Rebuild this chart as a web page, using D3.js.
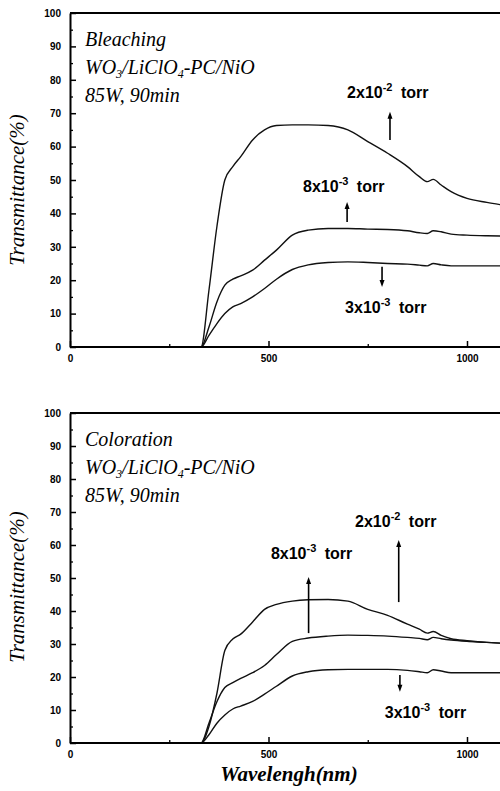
<!DOCTYPE html>
<html>
<head>
<meta charset="utf-8">
<script src="https://cdn.jsdelivr.net/npm/d3@7"></script>
<style>
  html, body { margin: 0; padding: 0; background: #fff; }
  svg { display: block; }
</style>
</head>
<body>
<svg id="chart" width="500" height="791"></svg>
<script>
// ---------- DATA ----------
const wavelengths = [0, 330, 350, 370, 390, 410, 430, 460, 490, 520, 560, 600, 650, 700, 750, 800, 850, 880, 900, 915, 935, 960, 1000, 1050, 1090];

// Bleaching panel
const bleach2e2 = [0, 0, 17, 36, 50, 54, 57, 62, 65, 66.3, 66.5, 66.5, 66.3, 65, 61.5, 58, 54, 51, 49.5, 50.2, 48.5, 46.5, 44.5, 43.3, 42.5];
const bleach8e3 = [0, 0, 6, 13.5, 18.5, 20.3, 21.3, 23, 26, 29, 33.5, 35, 35.5, 35.5, 35.3, 35.2, 34.8, 34.2, 34, 34.8, 34.5, 33.8, 33.5, 33.3, 33.2];
const bleach3e3 = [0, 0, 3.5, 7, 10, 12, 13, 15, 17.5, 20.3, 23.2, 24.6, 25.3, 25.5, 25.3, 25, 24.8, 24.5, 24.3, 25, 24.6, 24.3, 24.3, 24.3, 24.3];

// Coloration panel
const color2e2 = [0, 0, 5, 15, 28, 31.5, 33, 36.7, 40.5, 42, 43, 43.4, 43.5, 43, 40.5, 38.7, 36, 34.5, 33.3, 33.8, 32.6, 31.6, 31, 30.5, 30.2];
const color8e3 = [0, 0, 6, 12.5, 16.8, 18.3, 19.6, 21.3, 23.5, 26.8, 30.8, 31.8, 32.4, 32.7, 32.6, 32.4, 32, 31.7, 31.3, 32, 31.6, 31.2, 30.8, 30.5, 30.2];
const color3e3 = [0, 0, 2.5, 6, 8.5, 10.3, 11.2, 12.6, 14.8, 17.2, 20.3, 21.6, 22.2, 22.3, 22.3, 22.3, 22, 21.6, 21.3, 22.2, 21.8, 21.3, 21.3, 21.3, 21.3];

const yTicks = [0, 10, 20, 30, 40, 50, 60, 70, 80, 90, 100];
const xTicks = [0, 500, 1000];
const pressureLabels = [["2x10", "-2"], ["8x10", "-3"], ["3x10", "-3"]];
const panelTitles = ["Bleaching", "Coloration"];
const yLabel = "Transmittance(%)";
const xLabel = "Wavelengh(nm)";

// annotation anchors in data coordinates [nm, T]
const bleachLabelPos = [[698, 74.5], [587, 46.4], [693, 10.2]];
const bleachArrows = [[806, 62, 70.4, "up"], [698, 37.4, 43.4, "up"], [786, 24, 18, "down"]];
const colorLabelPos = [[718, 65.5], [506, 55.8], [793, 7.6]];
const colorArrows = [[828, 42.7, 61.5, "up"], [601, 33.3, 50.3, "up"], [831, 20.6, 15.5, "down"]];

// ---------- DRAW ----------
const svg = d3.select("#chart");
const x = d3.scaleLinear().domain([0, 1000]).range([70, 467]);
const xRight = 500;

const panels = [
  { title: panelTitles[0], top: 13, bottom: 347, series: [bleach2e2, bleach8e3, bleach3e3], labels: bleachLabelPos, arrows: bleachArrows },
  { title: panelTitles[1], top: 413, bottom: 743, series: [color2e2, color8e3, color3e3], labels: colorLabelPos, arrows: colorArrows }
];

const serif = "'Liberation Serif', 'Times New Roman', serif";
const sans = "'Liberation Sans', Arial, sans-serif";

panels.forEach((p, pi) => {
  const y = d3.scaleLinear().domain([0, 100]).range([p.bottom, p.top]);
  const g = svg.append("g");

  // curves
  const line = d3.line().x((d, i) => x(wavelengths[i])).y(d => y(d)).curve(d3.curveMonotoneX);
  p.series.forEach(s => {
    g.append("path").datum(s).attr("d", line)
      .attr("fill", "none").attr("stroke", "#111").attr("stroke-width", 1.4).attr("stroke-linejoin", "round");
  });

  // y axis major
  const yAxis = d3.axisLeft(y).tickValues(yTicks).tickSizeInner(-6).tickSizeOuter(0).tickPadding(9);
  const ya = g.append("g").attr("transform", `translate(${x(0)},0)`).call(yAxis);
  ya.select(".domain").attr("stroke", "#000").attr("stroke-width", 2);
  ya.selectAll(".tick line").attr("stroke", "#000").attr("stroke-width", 1.5);
  ya.selectAll(".tick text").attr("font-family", sans).attr("font-weight", "bold").attr("font-size", 10).attr("fill", "#000");
  // y minor
  const yMinor = d3.axisLeft(y).tickValues(d3.range(5, 100, 10)).tickSizeInner(-3).tickSizeOuter(0).tickFormat("");
  const ym = g.append("g").attr("transform", `translate(${x(0)},0)`).call(yMinor);
  ym.select(".domain").remove();
  ym.selectAll(".tick line").attr("stroke", "#000").attr("stroke-width", 1.3);

  // x axis
  const xa = g.append("g").attr("transform", `translate(0,${p.bottom})`)
    .call(d3.axisBottom(x).tickValues(xTicks).tickFormat(d3.format("d")).tickSizeInner(-6).tickSizeOuter(0).tickPadding(8));
  xa.select(".domain").remove();
  xa.selectAll(".tick line").attr("stroke", "#000").attr("stroke-width", 1.5);
  xa.selectAll(".tick text").attr("font-family", sans).attr("font-weight", "bold").attr("font-size", 10).attr("fill", "#000");
  const xm = g.append("g").attr("transform", `translate(0,${p.bottom})`)
    .call(d3.axisBottom(x).tickValues([250, 750]).tickSizeInner(-3).tickSizeOuter(0).tickFormat(""));
  xm.select(".domain").remove();
  xm.selectAll(".tick line").attr("stroke", "#000").attr("stroke-width", 1.3);

  // frame lines (bottom + top)
  g.append("line").attr("x1", x(0)).attr("x2", xRight).attr("y1", p.bottom).attr("y2", p.bottom)
    .attr("stroke", "#000").attr("stroke-width", 2);
  g.append("line").attr("x1", x(0)).attr("x2", xRight).attr("y1", p.top).attr("y2", p.top)
    .attr("stroke", "#000").attr("stroke-width", 2);

  // title block
  const tx = x(0) + 15;
  g.append("text").attr("x", tx).attr("y", p.top + 33).attr("font-family", serif).attr("font-style", "italic")
    .attr("font-size", 20).attr("fill", "#000").text(p.title);
  const t2 = g.append("text").attr("x", tx).attr("y", p.top + 61).attr("font-family", serif).attr("font-style", "italic")
    .attr("font-size", 20).attr("fill", "#000");
  t2.append("tspan").text("WO");
  t2.append("tspan").attr("dy", 4).attr("font-size", 12).text("3");
  t2.append("tspan").attr("dy", -4).text("/LiClO");
  t2.append("tspan").attr("dy", 4).attr("font-size", 12).text("4");
  t2.append("tspan").attr("dy", -4).text("-PC/NiO");
  g.append("text").attr("x", tx).attr("y", p.top + 89).attr("font-family", serif).attr("font-style", "italic")
    .attr("font-size", 20).attr("fill", "#000").text("85W, 90min");

  // pressure labels
  p.labels.forEach((pos, i) => {
    const t = g.append("text").attr("x", x(pos[0])).attr("y", y(pos[1]))
      .attr("font-family", sans).attr("font-weight", "bold").attr("font-size", 16).attr("fill", "#000");
    t.append("tspan").text(pressureLabels[i][0]);
    t.append("tspan").attr("dy", -7).attr("font-size", 11).text(pressureLabels[i][1]);
    t.append("tspan").attr("dy", 7).attr("dx", 4).text(" torr");
  });

  // arrows
  p.arrows.forEach(a => {
    const ax = x(a[0]);
    const y1 = y(a[1]), y2 = y(a[2]);
    const tail = a[3] === "up" ? Math.max(y1, y2) : Math.min(y1, y2);
    const head = a[3] === "up" ? Math.min(y1, y2) : Math.max(y1, y2);
    const dir = a[3] === "up" ? 1 : -1;
    g.append("line").attr("x1", ax).attr("x2", ax).attr("y1", tail).attr("y2", head + dir * 4)
      .attr("stroke", "#000").attr("stroke-width", 1.6);
    g.append("path").attr("d", `M${ax},${head} L${ax - 2.5},${head + dir * 7} L${ax + 2.5},${head + dir * 7} Z`)
      .attr("fill", "#000");
  });

  // y label
  const yc = pi === 0 ? 190 : 587;
  g.append("text").attr("transform", `translate(24,${yc}) rotate(-90)`).attr("text-anchor", "middle")
    .attr("font-family", serif).attr("font-style", "italic").attr("font-size", 21).attr("fill", "#000").text(yLabel);
});

svg.append("text").attr("x", 289).attr("y", 781).attr("text-anchor", "middle")
  .attr("font-family", serif).attr("font-style", "italic").attr("font-weight", "bold")
  .attr("font-size", 21).attr("fill", "#000").text(xLabel);
</script>
</body>
</html>
